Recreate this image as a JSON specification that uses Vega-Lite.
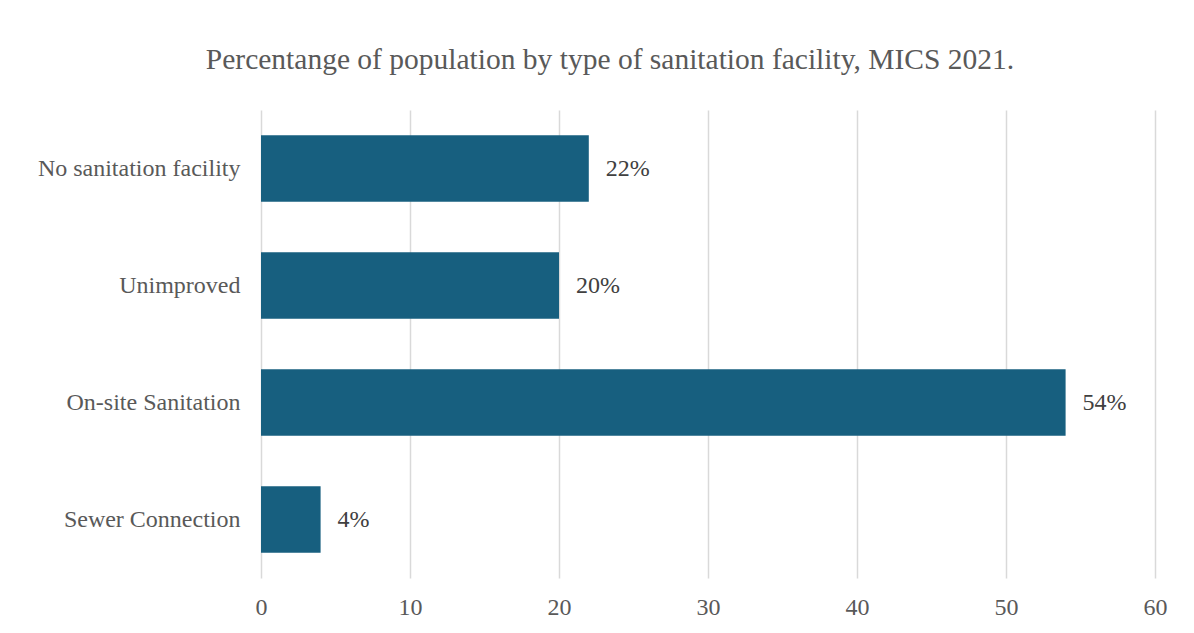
{
  "$schema": "https://vega.github.io/schema/vega-lite/v6.json",
  "autosize": "none",
  "width": 894,
  "height": 468,
  "padding": {"left": 261, "top": 110, "right": 39, "bottom": 55},
  "background": "white",
  "config": {"view": {"stroke": null}, "font": "Liberation Serif"},
  "title": {
    "text": "Percentange of population by type of sanitation facility, MICS 2021.",
    "font": "Liberation Serif",
    "fontSize": 29.5,
    "fontWeight": "normal",
    "color": "#595959",
    "anchor": "middle",
    "dx": -98,
    "offset": 35
  },
  "data": {
    "values": [
      {"category": "No sanitation facility", "value": 22, "label": "22%"},
      {"category": "Unimproved", "value": 20, "label": "20%"},
      {"category": "On-site Sanitation", "value": 54, "label": "54%"},
      {"category": "Sewer Connection", "value": 4, "label": "4%"}
    ]
  },
  "encoding": {
    "y": {
      "field": "category",
      "type": "nominal",
      "sort": null,
      "scale": {"paddingInner": 0.43, "paddingOuter": 0.215},
      "axis": {
        "title": null,
        "domain": false,
        "ticks": false,
        "grid": false,
        "labelFont": "Liberation Serif",
        "labelFontSize": 24,
        "labelColor": "#595959",
        "labelLimit": 400,
        "labelPadding": 21
      }
    },
    "x": {
      "field": "value",
      "type": "quantitative",
      "scale": {"domain": [0, 60], "nice": false},
      "axis": {
        "title": null,
        "values": [0, 10, 20, 30, 40, 50, 60],
        "domain": false,
        "ticks": false,
        "grid": true,
        "gridColor": "#d9d9d9",
        "gridWidth": 1.5,
        "labelFlush": false,
        "labelFont": "Liberation Serif",
        "labelFontSize": 24,
        "labelColor": "#595959",
        "labelPadding": 17
      }
    }
  },
  "layer": [
    {"mark": {"type": "bar", "color": "#175f7f"}},
    {
      "mark": {"type": "text", "align": "left", "baseline": "middle", "dx": 17, "font": "Liberation Serif", "fontSize": 24, "color": "#404040"},
      "encoding": {"text": {"field": "label"}}
    }
  ]
}
